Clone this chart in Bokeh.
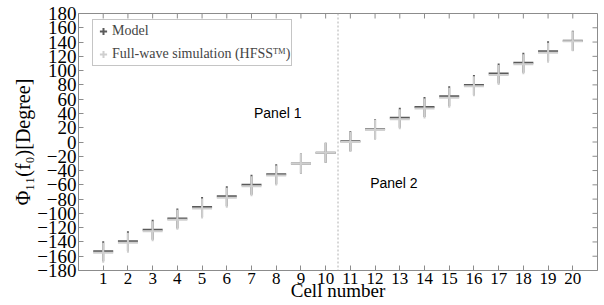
import math
from bokeh.plotting import figure
from bokeh.models import (FixedTicker, Span, Label, Legend, LegendItem,
                          ColumnDataSource, Range1d)
from bokeh.embed import file_html
from bokeh.resources import INLINE

cells = list(range(1, 21))
model = [-153, -139, -123, -107, -91, -76, -60, -45, -30, -15,
         1, 18, 34, 49, 64, 80, 96, 111, 127, 142]
hfss = [-155, -141, -125, -109, -93, -78, -62, -47, -30, -15,
        0, 17, 32, 47, 62, 78, 94, 109, 125, 141]
y_ticks = list(range(-180, 181, 20))
x_ticks = cells
x_min, x_max = 0, 21
y_min, y_max = -180, 180
divider_x = 10.5
panel_labels = ["Panel 1", "Panel 2"]
panel_x = [7.1, 11.8]
panel_y = [41, -57]
x_title = "Cell number"
y_title = "Φ₁₁(f₀)[Degree]"

SERIF = "Liberation Serif"
GRAY = "#8c8c8c"

p = figure(width=604, height=305, output_backend="svg", toolbar_location=None,
           x_range=Range1d(x_min, x_max), y_range=Range1d(y_min, y_max),
           min_border_left=78, min_border_right=7, min_border_top=13, min_border_bottom=35)
p.background_fill_color = "white"
p.border_fill_color = "white"
p.outline_line_color = GRAY
p.grid.visible = False

src = ColumnDataSource(dict(x=cells, model=model, hfss=hfss))
r_model = p.scatter("x", "model", source=src, marker="cross", size=20,
                    line_color="#5a5a5a", line_width=2)
r_hfss = p.scatter("x", "hfss", source=src, marker="cross", size=20,
                   line_color="#cfcfcf", line_width=2)

# inward tick marks on the top and right frame edges
p.ray(x=x_ticks, y=[y_max] * len(x_ticks), length=5, length_units="screen",
      angle=-math.pi / 2, line_color=GRAY, line_width=1)
p.ray(x=[x_max] * len(y_ticks), y=y_ticks, length=5, length_units="screen",
      angle=math.pi, line_color=GRAY, line_width=1)

p.add_layout(Span(location=divider_x, dimension="height", line_color="#b0b0b0",
                  line_dash="2 2", line_width=1))

for t, x, y in zip(panel_labels, panel_x, panel_y):
    p.add_layout(Label(x=x, y=y, text=t, text_font="Liberation Sans",
                       text_font_size="14px", text_color="black",
                       text_baseline="middle"))

def style_axis(ax):
    ax.axis_line_color = GRAY
    ax.major_tick_line_color = GRAY
    ax.major_tick_in = 5
    ax.major_tick_out = 0
    ax.minor_tick_line_color = None
    ax.major_label_text_font = SERIF
    ax.major_label_text_color = "black"
    ax.axis_label_text_font = SERIF
    ax.axis_label_text_font_style = "normal"
    ax.axis_label_text_color = "black"

yax = p.yaxis[0]
yax.ticker = FixedTicker(ticks=y_ticks)
style_axis(yax)
yax.major_label_text_font_size = "19px"
yax.major_label_standoff = 2
yax.axis_label = y_title
yax.axis_label_text_font_size = "20px"
yax.axis_label_standoff = 0

xax = p.xaxis[0]
xax.ticker = FixedTicker(ticks=x_ticks)
style_axis(xax)
xax.major_label_text_font_size = "17px"
xax.major_label_standoff = 2
xax.axis_label = x_title
xax.axis_label_text_font_size = "19px"
xax.axis_label_standoff = -7

legend = Legend(items=[LegendItem(label="Model", renderers=[r_model]),
                       LegendItem(label="Full-wave simulation (HFSSᵀᴹ)", renderers=[r_hfss])],
                location=(14, 204))
legend.label_text_font = SERIF
legend.label_text_font_size = "14px"
legend.border_line_color = GRAY
legend.background_fill_alpha = 1
legend.glyph_width = 18
legend.glyph_height = 20
legend.label_standoff = 0
legend.label_height = 20
legend.spacing = 3
legend.padding = 1
legend.margin = 0
p.add_layout(legend)

open("out.html", "w").write(file_html(p, INLINE))
